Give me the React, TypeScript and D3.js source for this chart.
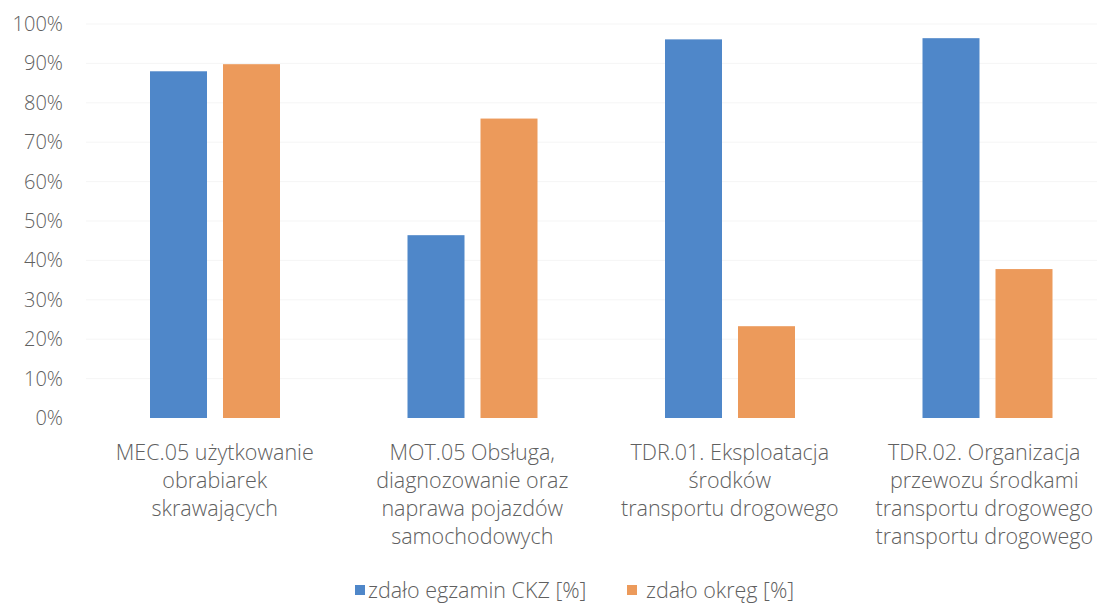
import React from "react";
import * as d3 from "d3";

const categories = [
  ["MEC.05 użytkowanie", "obrabiarek", "skrawających"],
  ["MOT.05 Obsługa,", "diagnozowanie oraz", "naprawa pojazdów", "samochodowych"],
  ["TDR.01. Eksploatacja", "środków", "transportu drogowego"],
  ["TDR.02. Organizacja", "przewozu środkami", "transportu drogowego", "transportu drogowego"],
];
const seriesNames = ["zdało egzamin CKZ [%]", "zdało okręg [%]"];
const ckz = [88, 46.4, 96.1, 96.4];
const okreg = [89.8, 76, 23.3, 37.8];
const yTicks = [0, 10, 20, 30, 40, 50, 60, 70, 80, 90, 100];
const colors = ["#4f87c9", "#ec9a5b"];

const W = 1097;
const H = 603;
const FONT = "'Open Sans', sans-serif";
const TEXT = "#606060";

export default function App() {
  const idx = categories.map((_, i) => String(i));
  const x = d3.scaleBand<string>().domain(idx).range([86, 1116]).paddingInner(0).paddingOuter(0);
  const xs = d3.scaleBand<string>().domain(["0", "1"]).range([64, 194]).paddingInner(16 / 73).paddingOuter(0);
  const y = d3.scaleLinear().domain([0, 100]).range([418, 24]);
  const series = [ckz, okreg];

  return (
    <svg width={W} height={H} style={{ position: "absolute", left: 0, top: 0, background: "#fff" }}>
      <rect width={W} height={H} fill="#fff" />
      {yTicks.map((t) => (
        <g key={t}>
          {t > 0 && <line x1={86} x2={1097} y1={y(t)} y2={y(t)} stroke="#f5f5f5" strokeWidth={1} />}
          <text x={63} y={y(t)} dy="0.35em" textAnchor="end" fontFamily={FONT} fontWeight={300} fontSize={20} fill={TEXT}>
            {t}%
          </text>
        </g>
      ))}
      {series.map((vals, s) =>
        vals.map((v, i) => (
          <rect
            key={`${s}-${i}`}
            x={(x(String(i)) ?? 0) + (xs(String(s)) ?? 0)}
            y={y(v)}
            width={xs.bandwidth()}
            height={y(0) - y(v)}
            fill={colors[s]}
          />
        ))
      )}
      {categories.map((lines, i) => (
        <text key={i} textAnchor="middle" fontFamily={FONT} fontWeight={300} fontSize={21.5} fill={TEXT}>
          {lines.map((l, j) => (
            <tspan key={j} x={(x(String(i)) ?? 0) + x.bandwidth() / 2 - (i === 3 ? 3 : 0)} y={452 + j * 28} dy="0.35em">
              {l}
            </tspan>
          ))}
        </text>
      ))}
      <g fontFamily={FONT} fontWeight={300} fontSize={21.5} fill={TEXT}>
        <rect x={355} y={585} width={10} height={10} fill={colors[0]} />
        <text x={368} y={590} dy="0.35em">{seriesNames[0]}</text>
        <rect x={627} y={585} width={10} height={10} fill={colors[1]} />
        <text x={646} y={590} dy="0.35em">{seriesNames[1]}</text>
      </g>
    </svg>
  );
}
